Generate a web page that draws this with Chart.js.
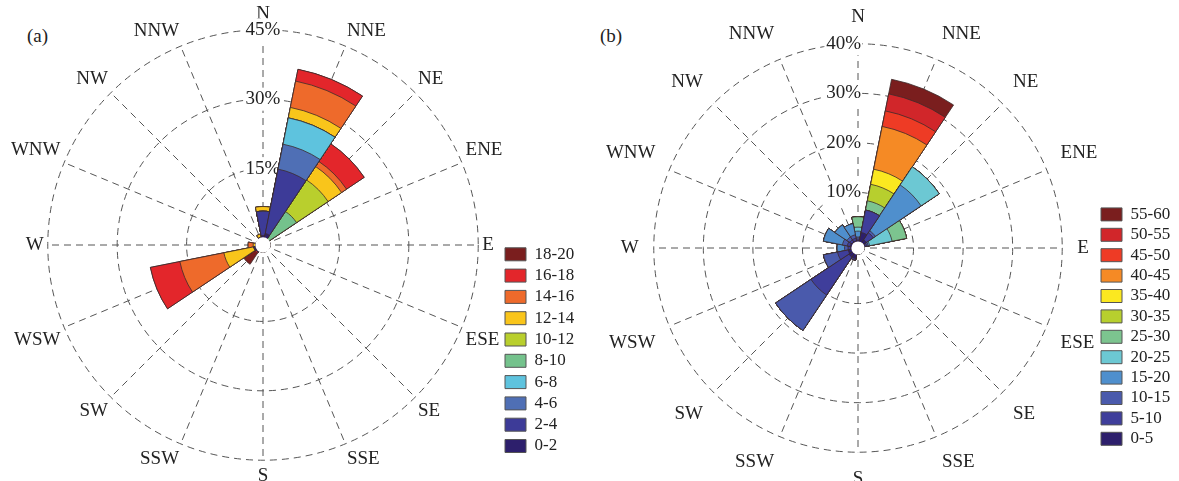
<!DOCTYPE html>
<html>
<head>
<meta charset="utf-8">
<script src="https://cdn.jsdelivr.net/npm/chart.js@4.4.1/dist/chart.umd.min.js"></script>
<style>
  html, body { margin: 0; padding: 0; background: #fff; }
  body { width: 1179px; height: 481px; position: relative; overflow: hidden; }
  canvas { position: absolute; }
  #roseA { left: 3px; top: -15px; }
  #roseB { left: 598px; top: -12px; }
  .tag { position: absolute; top: 25px; font: 19px "Liberation Serif", serif; color: #222; }
</style>
</head>
<body>
<div class="tag" style="left:27px">(a)</div>
<div class="tag" style="left:600px">(b)</div>
<canvas id="roseA" width="580" height="520"></canvas>
<canvas id="roseB" width="581" height="520"></canvas>
<script>
const directions = ['N', 'NNE', 'NE', 'ENE', 'E', 'ESE', 'SE', 'SSE', 'S', 'SSW', 'SW', 'WSW', 'W', 'WNW', 'NW', 'NNW'];

// (a) frequency (%) of each speed class per direction
const classesA = ['0-2', '2-4', '4-6', '6-8', '8-10', '10-12', '12-14', '14-16', '16-18', '18-20'];
const a0_2   = [0.5, 1.0, 0,   0, 0, 0, 0, 0, 0, 0, 0.3, 0.3, 0,   0, 0, 0.2];
const a2_4   = [5.3, 14.2, 0,  0, 0, 0, 0, 0, 0, 0, 0,   0.2, 0,   0, 0, 0];
const a4_6   = [0,   5.5, 0,   0, 0, 0, 0, 0, 0, 0, 0,   0,   0,   0, 0, 0];
const a6_8   = [0,   5.8, 0,   0, 0, 0, 0, 0, 0, 0, 0,   0,   0,   0, 0, 0];
const a8_10  = [0,   0,   7.2, 0, 0, 0, 0, 0, 0, 0, 0,   0,   0,   0, 0, 0];
const a10_12 = [0,   0,   8.2, 0, 0, 0, 0, 0, 0, 0, 0,   0,   0,   0, 0, 0];
const a12_14 = [1.0, 2.3, 3.5, 0, 0, 0, 0, 0, 0, 0, 0,   6.6, 0.6, 0, 0, 0.7];
const a14_16 = [0,   5.8, 1.3, 0, 0, 0, 0, 0, 0, 0, 0,   9.7, 1.1, 0, 0, 0];
const a16_18 = [0,   2.6, 4.6, 0, 0, 0, 0, 0, 0, 0, 0.3, 6.5, 0,   0, 0, 0];
const a18_20 = [0,   0,   0,   0, 0, 0, 0, 0, 0, 0, 2.9, 0,   0,   0, 0, 0];
const ticksA = [15, 30, 45];

// (b)
const classesB = ['0-5', '5-10', '10-15', '15-20', '20-25', '25-30', '30-35', '35-40', '40-45', '45-50', '50-55', '55-60'];
const b0_5   = [0.3, 2.0, 0.8,  0.3, 0, 0, 0, 0, 0, 1.0, 1.0, 0.8, 0.3, 0.4, 0.3, 0.3];
const b5_10  = [0.3, 4.6, 1.7,  0.3, 0, 0, 0, 0, 0, 0.3, 9.2, 2.2, 0.5, 0.6, 0.5, 0.5];
const b10_15 = [0.4, 0,   0.5,  0.3, 0, 0, 0, 0, 0, 0,   8.6, 2.9, 0.7, 1.0, 0.7, 0.7];
const b15_20 = [1.2, 0,   11.1, 0.3, 0, 0, 0, 0, 0, 0,   0,   0,   1.5, 3.9, 2.9, 2.3];
const b20_25 = [0.8, 0,   4.4,  4.6, 0, 0, 0, 0, 0, 0,   0,   0,   0,   0,   0,   0];
const b25_30 = [2.1, 1.9, 0,    3.0, 0, 0, 0, 0, 0, 0,   0,   0,   0,   0,   0,   0];
const b30_35 = [0,   3.4, 0,    0,   0, 0, 0, 0, 0, 0,   0,   0,   0,   0,   0,   0];
const b35_40 = [0,   3.1, 0,    0,   0, 0, 0, 0, 0, 0,   0,   0,   0,   0,   0,   0];
const b40_45 = [0,   8.8, 0,    0,   0, 0, 0, 0, 0, 0,   0,   0,   0,   0,   0,   0];
const b45_50 = [0,   3.2, 0,    0,   0, 0, 0, 0, 0, 0,   0,   0,   0,   0,   0,   0];
const b50_55 = [0,   3.5, 0,    0,   0, 0, 0, 0, 0, 0,   0,   0,   0,   0,   0,   0];
const b55_60 = [0,   3.0, 0,    0,   0, 0, 0, 0, 0, 0,   0,   0,   0,   0,   0,   0];
const ticksB = [10, 20, 30, 40];

const colorsA = ['#2d1f6c', '#3d3b98', '#4f6fb5', '#5ec3de', '#74c28c', '#b9cf2d', '#f9c51b', '#ee6a2b', '#e3262b', '#7a1e1e'];
const colorsB = ['#2d1f6c', '#3f3e9b', '#4a5aac', '#4f8fcd', '#6cc8d3', '#7cc48f', '#b7cf2e', '#fbe820', '#f58a25', '#ee3b25', '#d1262a', '#7a1e1e'];

const serif = '"Liberation Serif", "Times New Roman", serif';
const ink = '#222';
const gridColor = '#555';

// polarArea starts each wedge at its direction; shift back half a sector so wedges sit centred on N, NNE...
const centerWedges = {
    id: 'centerWedges',
    afterDatasetsUpdate(chart) {
        const half = Math.PI / directions.length;
        chart.data.datasets.forEach((ds, i) => {
            chart.getDatasetMeta(i).data.forEach(arc => {
                arc.startAngle -= half;
                arc.endAngle -= half;
            });
        });
    }
};

// white calm circle in the middle
const hole = {
    id: 'hole',
    afterDatasetsDraw(chart) {
        const s = chart.scales.r;
        const ctx = chart.ctx;
        ctx.save();
        ctx.fillStyle = '#fff';
        ctx.beginPath();
        ctx.arc(s.xCenter, s.yCenter, s.getDistanceFromCenterForValue(0) + 0.6, 0, 2 * Math.PI);
        ctx.fill();
        ctx.restore();
    }
};

// legend sits at a fixed spot beside the rose
const placeLegend = {
    id: 'placeLegend',
    afterLayout(chart, args, opts) {
        const lg = chart.legend;
        lg.left = opts.x; lg.top = opts.y;
        lg.right = opts.x + lg.width; lg.bottom = opts.y + lg.height;
    }
};

function makeRose(id, bins, classes, colors, ticks, opts) {
    // stack the speed classes: each ring goes out to the running total
    const running = directions.map(() => 0);
    const datasets = bins.map((bin, i) => ({
        label: classes[i],
        data: bin.map((v, d) => (running[d] += v)),
        backgroundColor: colors[i],
        borderColor: '#3b2b2b',
        borderWidth: 0.8
    }));

    return new Chart(document.getElementById(id), {
        type: 'polarArea',
        data: { labels: directions, datasets: datasets },
        options: {
            responsive: false,
            animation: false,
            layout: { padding: { right: opts.padRight } },
            scales: {
                r: {
                    min: opts.min,
                    max: ticks[ticks.length - 1],
                    afterBuildTicks: s => { s.ticks = ticks.map(v => ({ value: v })); },
                    grid: { color: gridColor, lineWidth: 1, circular: true },
                    border: { dash: [7, 5] },
                    angleLines: { display: true, color: gridColor, lineWidth: 1, borderDash: [7, 5] },
                    pointLabels: { display: true, padding: opts.labelPad, color: ink, font: { family: serif, size: 19 } },
                    ticks: {
                        font: { family: serif, size: 19 },
                        color: ink,
                        backdropColor: '#fff',
                        backdropPadding: opts.tickBox,
                        callback: v => v + '%' + opts.tickTail
                    }
                }
            },
            plugins: {
                tooltip: { enabled: false },
                legend: {
                    position: 'chartArea',
                    align: 'start',
                    reverse: true,
                    labels: {
                        boxWidth: 21,
                        boxHeight: 13,
                        padding: opts.legendGap,
                        font: { family: serif, size: 17 },
                        generateLabels: chart => chart.data.datasets.map((ds, i) => ({
                            text: ds.label,
                            fillStyle: ds.backgroundColor,
                            strokeStyle: '#555',
                            lineWidth: 1,
                            fontColor: ink,
                            hidden: false,
                            datasetIndex: i
                        }))
                    }
                },
                placeLegend: opts.legendAt
            }
        },
        plugins: [centerWedges, hole, placeLegend]
    });
}

makeRose('roseA',
    [a0_2, a2_4, a4_6, a6_8, a8_10, a10_12, a12_14, a14_16, a16_18, a18_20],
    classesA, colorsA, ticksA,
    { min: -1.52, labelPad: -7.5, padRight: 73, legendGap: 4.3, legendAt: { x: 497.7, y: 256.5 },
      tickTail: '', tickBox: 2 });

// in (b) the % labels sit just left of the north line
makeRose('roseB',
    [b0_5, b5_10, b10_15, b15_20, b20_25, b25_30, b30_35, b35_40, b40_45, b45_50, b50_55, b55_60],
    classesB, colorsB, ticksB,
    { min: -1.21, labelPad: 3.5, padRight: 74, legendGap: 3.4, legendAt: { x: 499.6, y: 214.5 },
      tickTail: '\u2007\u2007\u2007', tickBox: { top: 2, bottom: 2, left: 2, right: -27.5 } });
</script>
</body>
</html>
